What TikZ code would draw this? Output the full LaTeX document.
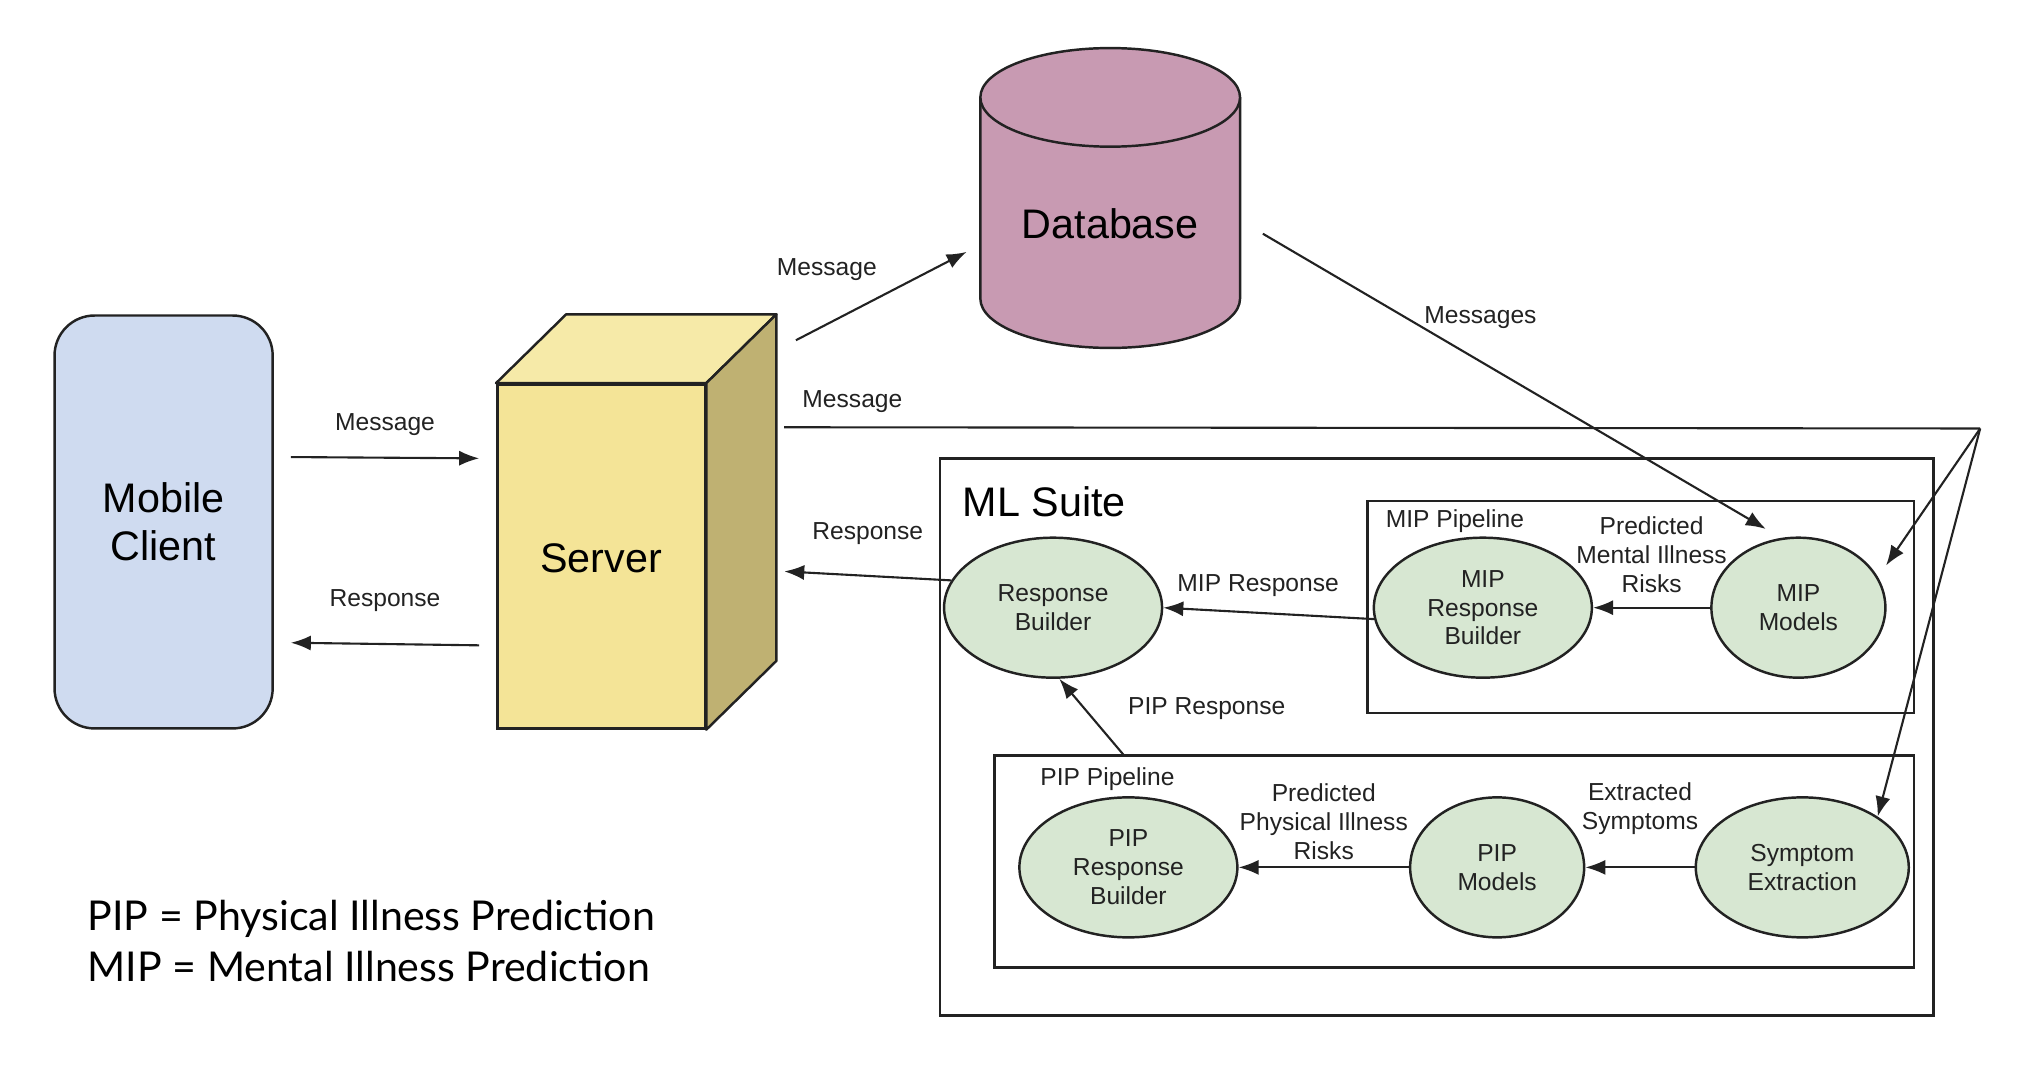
\documentclass[tikz,border=0pt]{standalone}
\usepackage{fontspec}
\setmainfont{Liberation Sans}
\newfontfamily\legendefont{Lato}
\usetikzlibrary{arrows.meta,calc,fit,positioning,shapes.geometric}
\definecolor{bleuclient}{HTML}{CFDBF0}
\definecolor{jaunefront}{HTML}{F4E497}
\definecolor{jaunehaut}{HTML}{F6EAA8}
\definecolor{jauneside}{HTML}{BFB172}
\definecolor{mauvebase}{HTML}{C89AB2}
\definecolor{vertml}{HTML}{D7E7D2}
\definecolor{trait}{HTML}{222222}
\begin{document}
\begin{tikzpicture}[
  x=0.012985cm, y=-0.012985cm,
  %  Définition des styles
  grand_texte/.style={font=\fontsize{11.75}{13.7}\selectfont},
  petit_texte/.style={font=\fontsize{7}{8.2}\selectfont, inner sep=1pt, align=center, text=trait},
  fleche/.style={draw=trait, line width=0.6pt, -{Latex[length=5.7pt, width=4.3pt]}},
  cadre_style/.style={rectangle, draw=trait, line width=0.7pt, inner sep=0pt},
  face_style/.style={draw=trait, line width=0.7pt, line join=round},
  client_style/.style={rectangle, rounded corners=0.4cm, draw=trait, fill=bleuclient, line width=0.7pt, inner sep=0pt},
  serveur_style/.style={rectangle, draw=trait, fill=jaunefront, line width=0.7pt, inner sep=0pt},
  bulle_style/.style={ellipse, petit_texte, draw=trait, fill=vertml, line width=0.7pt, inner sep=0pt, minimum height=1.4cm}
]
\useasboundingbox (0,0) rectangle (1568,834.8);

%  Client et serveur
\node[client_style, fit={(42,243) (210,561)}] (mob) {};
\node[grand_texte, align=center, inner sep=0pt] (mob_txt) at (mob.center) {Mobile\\Client};
\node[serveur_style, fit={(383,296) (543,561)}] (srv) {};
\node[grand_texte, inner sep=0pt] (srv_txt) at ($(srv.center)+(0,1.5)$) {Server};
\coordinate (srv_ne) at ($(srv.north east)+(54,-53)$);
\filldraw[face_style, fill=jaunehaut] (srv.north west) -- ($(srv.north west)+(54,-53)$) -- (srv_ne) -- (srv.north east) -- cycle;
\filldraw[face_style, fill=jauneside] (srv.north east) -- (srv_ne) -- ($(srv.south east)+(54,-53)$) -- (srv.south east) -- cycle;

%  Base de données
\node[inner sep=0pt, fit={(755,37) (955,268)}] (db) {};
\path[fill=mauvebase, draw=trait, line width=0.7pt] (755,75) -- (755,230) arc[start angle=180, end angle=360, x radius=1.2985cm, y radius=0.493cm] -- (955,75);
\filldraw[fill=mauvebase, draw=trait, line width=0.7pt] (855,75) ellipse [x radius=1.2985cm, y radius=0.493cm];
\node[grand_texte] (db_txt) at ($(db.center)+(0,20)$) {Database};

%  Cadres ML
\node[cadre_style, fit={(724,353) (1489,782)}] (ml) {};
\node[cadre_style, fit={(1053,386) (1474,549)}] (mipbox) {};
\node[cadre_style, fit={(766,582) (1474,745)}] (pipbox) {};
\node[grand_texte, anchor=west, inner sep=0pt] (ml_titre) at ($(ml.north west)+(18,34)$) {ML Suite};
\node[petit_texte, anchor=west] (mip_titre) at ($(mipbox.north west)+(12,16)$) {MIP Pipeline};
\node[petit_texte, anchor=west] (pip_titre) at ($(pipbox.north west)+(33,19)$) {PIP Pipeline};

%  Bulles
\node[bulle_style, minimum width=2.18cm] (rb) at (811,468) {Response\\Builder};
\node[bulle_style, minimum width=2.18cm] (mrb) at (1142,468) {MIP\\Response\\Builder};
\node[bulle_style, minimum width=1.74cm] (mipm) at (1385,468) {MIP\\Models};
\node[bulle_style, minimum width=2.18cm] (prb) at (869,668) {PIP\\Response\\Builder};
\node[bulle_style, minimum width=1.74cm] (pipm) at (1153,668) {PIP\\Models};
\node[bulle_style, minimum width=2.13cm] (symx) at (1388,668) {Symptom\\Extraction};

%  Flèches client / serveur / base
\draw[fleche] ($(mob.east)+(13,-50)$) -- node[petit_texte, above=5pt] (lbl_msg1) {Message} ($(srv.west)+(-13,-75.5)$);
\draw[fleche] ($(srv.west)+(-13,68.5)$) -- node[petit_texte, above=8pt] (lbl_rep1) {Response} ($(mob.east)+(13,93)$);
\draw[fleche] ($(srv.north east)+(69,-33)$) -- node[petit_texte, midway, above left=3.2pt and 0pt] (lbl_msg2) {Message} ($(db.west)+(-10,41.5)$);
\draw[fleche, shorten >=5pt] ($(db.east)+(17,27.5)$) -- node[petit_texte, pos=0.42, above=8pt] (lbl_msgs) {Messages} (mipm.104);
\coordinate (hub) at (1525,330);
\draw[draw=trait, line width=0.6pt] ($(srv_ne)+(6,87)$) -- node[petit_texte, pos=0.057, above=3pt] (lbl_msg3) {Message} (hub);
\draw[fleche, shorten >=4pt] (hub) -- (mipm.21);
\draw[fleche] (hub) -- (symx.34);
\draw[fleche] (rb.165) -- node[petit_texte, above=7.5pt] (lbl_rep2) {Response} ($(srv_ne)+(6,198)$);

%  Flèches ML
\draw[fleche] (mrb.186) -- node[petit_texte, above=3.5pt, xshift=-3pt] (lbl_miprep) {MIP Response} (rb.east);
\draw[fleche] (mipm.west) -- node[petit_texte, above=3pt] (lbl_mir) {Predicted\\Mental Illness\\Risks} (mrb.east);
\draw[fleche] ($(pipbox.north west)+(100,0)$) -- node[petit_texte, pos=0.6, right=11pt] (lbl_piprep) {PIP Response} (rb.275);
\draw[fleche] (symx) -- node[petit_texte, above=8pt] (lbl_symp) {Extracted\\Symptoms} (pipm);
\draw[fleche] (pipm) -- node[petit_texte, above=1pt] (lbl_pir) {Predicted\\Physical Illness\\Risks} (prb);

%  Légende
\node[anchor=west, align=left, inner sep=0pt, font=\legendefont\fontsize{11.7}{14.4}\selectfont] (legende) at (67,724.5) {PIP = Physical Illness Prediction\\MIP = Mental Illness Prediction};
\end{tikzpicture}
\end{document}
